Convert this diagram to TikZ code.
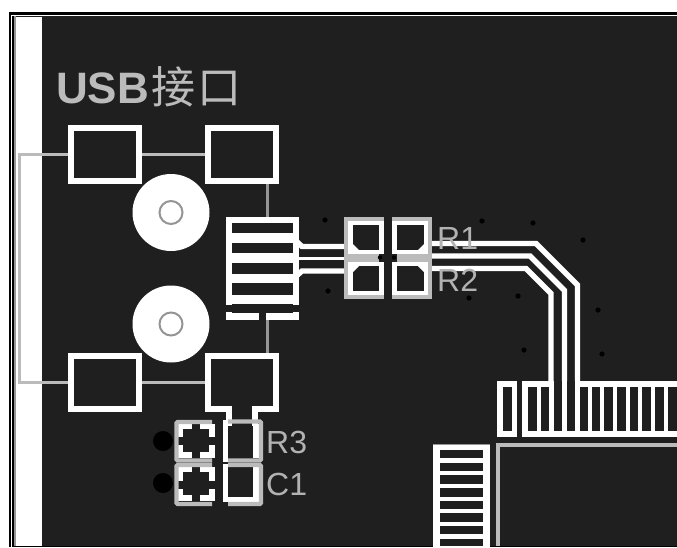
\documentclass[tikz,border=0pt]{standalone}
\usepackage{fontspec}
\setmainfont{Liberation Sans}
\newfontfamily\cjk{Noto Sans CJK SC}
\definecolor{board}{HTML}{1F1F1F}
\definecolor{silk}{HTML}{BBBBBB}
\definecolor{silkd}{HTML}{959595}
\definecolor{lab}{HTML}{B2B2B2}
\tikzset{
  pad/.style={draw=white,line width=5.6pt,fill=board,miter limit=10},
  slot/.style={fill=board,draw=none},
  trace/.style={draw=white,line width=5.4pt,line join=miter},
  thintrace/.style={draw=white,line width=3.4pt},
  silkline/.style={draw=silk,line width=3pt},
  silkdark/.style={draw=silkd,line width=3pt},
  silkbox/.style={draw=silk,line width=4.2pt,rounded corners=1pt},
  via/.style={fill=black,draw=none},
  lbl/.style={text=lab,font=\fontsize{32}{32}\selectfont,inner sep=0pt,anchor=base west},
}
\begin{document}
\begin{tikzpicture}[x=1pt,y=-1pt]
\useasboundingbox (0,0) rectangle (677,547);
\fill[white] (0,0) rectangle (677,547);
% frame
\fill[black] (9,12) rectangle (677,547);
\fill[white] (11,14.5) rectangle (12,547);
\fill[white] (11,14.5) rectangle (677,15);
\fill[silkd] (14,15.5) rectangle (16,546);
\fill[board] (16,15.5) rectangle (677,546);
\fill[white] (16,17) rectangle (42,546);
% silk connection lines
\draw[silkline] (68,154) -- (19,154) -- (19,382) -- (68,382);
\draw[silkline] (142,154) -- (205,154);
\draw[silkline] (142,382) -- (205,382);
\draw[silkdark] (267,184) -- (267,218);
\draw[silkdark] (267,318) -- (267,353);
% mounting holes
\foreach \cy in {212.5,324}{
  \fill[white] (171,\cy) circle (38.5);
  \draw[silkd,line width=2pt] (171,\cy) circle (11.5);
}
% USB pads
\draw[pad] (70.8,127.8) rectangle (139.2,181.2);
\draw[pad] (207.8,127.8) rectangle (276.2,181.2);
\draw[pad] (70.8,355.8) rectangle (139.2,409.2);
\fill[white] (205,353) rectangle (279,412);
\fill[white] (226,412) rectangle (258,426);
\fill[board] (211,359) rectangle (273,406);
\fill[board] (232,406) rectangle (252,430);
% USB connector
\fill[white] (226,217) rectangle (299,305);
\fill[slot] (232,223) rectangle (293,233);
\fill[slot] (232,243) rectangle (293,253);
\fill[slot] (232,263) rectangle (293,274);
\fill[slot] (232,283) rectangle (293,295);
\fill[white] (226,312) rectangle (259,320);
\fill[white] (266,312) rectangle (299,320);
\fill[slot] (232,304) rectangle (293,313);
\fill[slot] (226,305) rectangle (299,312);
% traces to R1 and R2
\draw[trace] (293,238) -- (302,246.5) -- (346,246.5);
\draw[thintrace] (293,258.5) -- (346,258.5);
\draw[trace] (293,279) -- (302,271) -- (346,271);
% traces to the IC
\draw[trace] (430,243.5) -- (536,243.5) -- (577.5,285) -- (577.5,381);
\draw[trace] (430,256) -- (530,256) -- (564.5,290.5) -- (564.5,381);
\draw[trace] (430,268.5) -- (526,268.5) -- (551,293.5) -- (551,381);
% IC top pads
\fill[white] (497,381) rectangle (517,437);
\fill[slot] (503,387) rectangle (512,431);
\fill[white] (522,381) rectangle (677,437);
\foreach \xa/\xb in {528/537,541/549,579.5/588,592/600,604/613,617/626,630/638,642/651,655/664,668/677}{
  \fill[slot] (\xa,387) rectangle (\xb,431);
}
\foreach \xa/\xb in {554/562,567/575}{
  \fill[slot] (\xa,381) rectangle (\xb,431);
}
% IC left pads
\fill[white] (433,444) rectangle (490,547);
\foreach \ya/\yb in {450/458,463/471,475/484,488/497,501/509,513/522,526/534,539/546}{
  \fill[slot] (440,\ya) rectangle (483,\yb);
}
\fill[silkd] (433,444) rectangle (490,445);
% IC outline
\draw[draw=silk,line width=4pt] (497.7,546) -- (497.7,445.2) -- (677,445.2);
% R1 R2 footprints
\fill[white] (346,219) rectangle (384,297);
\fill[white] (392,219) rectangle (430,297);
\fill[board] (353,225) rectangle (379,250);
\fill[board] (353,266) rectangle (379,291);
\fill[board] (397,225) rectangle (424,250);
\fill[board] (397,266) rectangle (424,291);
\fill[white] (353,250) -- (353,244) -- (359,250) -- cycle;
\fill[white] (353,266) -- (353,272) -- (359,266) -- cycle;
\fill[white] (424,250) -- (424,244) -- (418,250) -- cycle;
\fill[white] (424,266) -- (424,272) -- (418,266) -- cycle;
\draw[silk,line width=4.4pt] (384,219.2) -- (346.2,219.2) -- (346.2,296.8) -- (384,296.8);
\draw[silk,line width=4.4pt] (392,219.2) -- (429.8,219.2) -- (429.8,296.8) -- (392,296.8);
\fill[white] (379,221.4) rectangle (384,294.6);
\fill[white] (392,221.4) rectangle (397,294.6);
\fill[silk] (347,254) rectangle (379,262);
\fill[silk] (397,254) rectangle (430,262);
\fill[board] (379,254) rectangle (397,262);
\fill[black] (380,257.5) circle (2.2);
\fill[black] (394,257.5) circle (2.2);
% R3 and C1 footprints
\foreach \ya/\cy in {424/440.5,467/484.5}{
  \fill[white] (178,\ya) rectangle (215,\ya+34);
  \fill[slot] (183,\ya+5) rectangle (209,\ya+28);
  \fill[slot] (192,\ya) rectangle (200,\ya+34);
  \fill[slot] (178,\cy-4) rectangle (215,\cy+4);
}
\draw[silkbox] (212,422) -- (176.5,422) -- (176.5,460.5) -- (212,460.5);
\draw[silkbox] (212,465) -- (176.5,465) -- (176.5,504) -- (212,504);
\fill[white] (223,420) rectangle (228,462);
\fill[white] (223,464) rectangle (228,502);
\fill[white] (223,497) rectangle (259,502);
\fill[white] (253,424) rectangle (259,458);
\fill[white] (253,467) rectangle (259,498);
\draw[silkbox] (228,421.5) -- (261,421.5) -- (261,460.5) -- (228,460.5);
\draw[silkbox] (228,465) -- (261,465) -- (261,504) -- (228,504);
\fill[via] (163,441) circle (10);
\fill[via] (163,483) circle (10);
% vias
\foreach \vx/\vy in {325/220,328/291,469/298,482/221,533/223,583/240,518/296,598/310,524/350,602/354}{
  \fill[via] (\vx,\vy) circle (2.6);
}
% labels
\node[lbl,text=silk,font=\fontsize{44}{44}\selectfont\bfseries] (usb) at (56,103) {USB\hspace{2pt}{\cjk\mdseries\fontsize{44}{44}\selectfont 接\hspace{2pt}口}};
\node[lbl] (r1) at (437,249) {R1};
\node[lbl] (r2) at (437,291) {R2};
\node[lbl] (r3) at (266,453) {R3};
\node[lbl] (c1) at (266,495) {C1};
\end{tikzpicture}
\end{document}
